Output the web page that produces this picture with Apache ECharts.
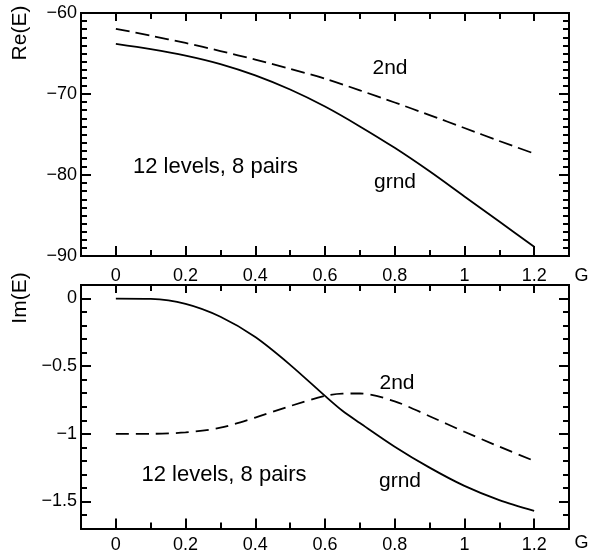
<!DOCTYPE html>
<html>
<head>
<meta charset="utf-8">
<script src="https://cdn.jsdelivr.net/npm/echarts@6/dist/echarts.min.js"></script>
<style>
html,body{margin:0;padding:0;background:#fff;}
#chart{width:589px;height:557px;}
</style>
</head>
<body>
<div id="chart"></div>
<script>
// ---- data ----
const gTop = [0, 0.1, 0.2, 0.3, 0.4, 0.5, 0.6, 0.7, 0.8, 0.9, 1.0, 1.1, 1.2];
const reGrnd = [-63.8, -64.45, -65.25, -66.3, -67.7, -69.45, -71.55, -74.0, -76.65, -79.55, -82.65, -85.75, -88.85];
const re2nd = [-61.95, -62.8, -63.7, -64.7, -65.75, -66.9, -68.1, -69.55, -71.05, -72.6, -74.2, -75.8, -77.35];

const gBot = [0, 0.1, 0.2, 0.3, 0.4, 0.5, 0.6, 0.65, 0.7, 0.8, 0.9, 1.0, 1.1, 1.2];
const imGrnd = [0, -0.003, -0.04, -0.135, -0.285, -0.49, -0.72, -0.83, -0.92, -1.095, -1.25, -1.385, -1.49, -1.57];
const im2nd = [-1.0, -1.0, -0.99, -0.955, -0.88, -0.795, -0.72, -0.703, -0.702, -0.76, -0.87, -0.985, -1.095, -1.2];

// ---- tick labels ----
const gLabels = [0, 0.2, 0.4, 0.6, 0.8, 1, 1.2];
const reLabels = [-90, -80, -70, -60];
const imLabels = [-1.5, -1, -0.5, 0];

const FONT = '"Liberation Sans", Arial, Helvetica, sans-serif';
const fmt = v => String(v).replace('-', '\u2212');

function pairs(xs, ys) { return xs.map((x, i) => [x, ys[i]]); }

function axisBase(min, max, pos, grid) {
  return {
    type: 'value', gridIndex: grid, position: pos, min: min, max: max,
    axisLine: { show: true, onZero: false, lineStyle: { color: '#000', width: 2 } },
    splitLine: { show: false },
    axisLabel: { show: false },
    axisTick: { show: false }
  };
}
function majorAxis(min, max, pos, grid, ticks, len, labels, margin) {
  const a = axisBase(min, max, pos, grid);
  a.axisTick = { show: true, inside: true, length: len, customValues: ticks, lineStyle: { color: '#000', width: 2 } };
  if (labels) {
    a.axisLabel = { show: true, customValues: labels, formatter: fmt, color: '#000', fontSize: 18, fontFamily: FONT, margin: margin };
  }
  return a;
}
function minorAxis(min, max, pos, grid, step, len) {
  const a = axisBase(min, max, pos, grid);
  a.interval = step;
  a.axisTick = { show: true, inside: true, length: len, lineStyle: { color: '#000', width: 2 } };
  return a;
}

const xAxes = [], yAxes = [];
[0, 1].forEach(g => {
  xAxes.push(majorAxis(-0.1, 1.3, 'bottom', g, gLabels, 10, gLabels, g === 0 ? 11 : 8));
  xAxes.push(minorAxis(-0.1, 1.3, 'bottom', g, 0.1, 6));
  xAxes.push(majorAxis(-0.1, 1.3, 'top', g, gLabels, 8, null));
  xAxes.push(minorAxis(-0.1, 1.3, 'top', g, 0.1, 6));
});
// top panel y
yAxes.push(majorAxis(-90, -60, 'left', 0, reLabels, 10, reLabels, 4));
yAxes.push(minorAxis(-90, -60, 'left', 0, 1, 6));
yAxes.push(majorAxis(-90, -60, 'right', 0, reLabels, 10, null));
yAxes.push(minorAxis(-90, -60, 'right', 0, 1, 6));
// bottom panel y
yAxes.push(majorAxis(-1.7, 0.1, 'left', 1, imLabels, 10, imLabels, 4));
yAxes.push(minorAxis(-1.7, 0.1, 'left', 1, 0.1, 6));
yAxes.push(majorAxis(-1.7, 0.1, 'right', 1, imLabels, 10, null));
yAxes.push(minorAxis(-1.7, 0.1, 'right', 1, 0.1, 6));

function txt(text, x, y, size, align, rot) {
  return {
    type: 'text', x: x, y: y, rotation: rot || 0, z: 100,
    style: { text: text, font: size + 'px ' + FONT, fill: '#000', align: align || 'center', verticalAlign: 'middle',
             textAlign: align || 'center', textVerticalAlign: 'middle' }
  };
}

const lineBase = { type: 'line', showSymbol: false, symbol: 'none', smooth: 0.3, silent: true, animation: false };

const option = {
  backgroundColor: '#fff',
  animation: false,
  grid: [
    { left: 81, top: 13, width: 488, height: 243, outerBoundsMode: 'none', containLabel: false },
    { left: 81, top: 285, width: 488, height: 243.5, outerBoundsMode: 'none', containLabel: false }
  ],
  xAxis: xAxes,
  yAxis: yAxes,
  series: [
    Object.assign({}, lineBase, { name: 'grnd Re', xAxisIndex: 0, yAxisIndex: 0, data: pairs(gTop, reGrnd),
      lineStyle: { color: '#000', width: 1.8 } }),
    Object.assign({}, lineBase, { name: '2nd Re', xAxisIndex: 0, yAxisIndex: 0, data: pairs(gTop, re2nd),
      lineStyle: { color: '#000', width: 1.8, type: [14, 6] } }),
    Object.assign({}, lineBase, { name: 'grnd Im', xAxisIndex: 4, yAxisIndex: 4, data: pairs(gBot, imGrnd),
      lineStyle: { color: '#000', width: 1.8 } }),
    Object.assign({}, lineBase, { name: '2nd Im', xAxisIndex: 4, yAxisIndex: 4, data: pairs(gBot, im2nd),
      lineStyle: { color: '#000', width: 1.8, type: [13, 7] } })
  ],
  graphic: [
    txt('Re(E)', 20, 33, 21, 'center', Math.PI / 2),
    txt('Im(E)', 20, 298, 21, 'center', Math.PI / 2),
    txt('G', 581.5, 276, 18),
    txt('G', 581.5, 543, 18),
    txt('12 levels, 8 pairs', 133, 167, 22, 'left'),
    txt('2nd', 390, 68, 21),
    txt('grnd', 395, 182, 21),
    txt('12 levels, 8 pairs', 141.5, 475, 22, 'left'),
    txt('2nd', 397, 383, 21),
    txt('grnd', 400, 481, 21)
  ]
};

const chart = echarts.init(document.getElementById('chart'), null, { renderer: 'canvas' });
chart.setOption(option);
</script>
</body>
</html>
